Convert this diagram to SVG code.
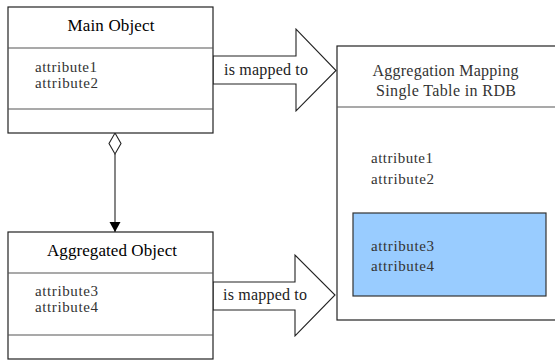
<svg xmlns="http://www.w3.org/2000/svg" width="555" height="360" viewBox="0 0 555 360">
<style>
.box{fill:#fff;stroke:#222;stroke-width:1.2}
.div{stroke:#555;stroke-width:1.2;fill:none}
.title{font-family:"Liberation Serif","Times New Roman",serif;font-size:17px;fill:#000;text-anchor:middle}
.attr{font-family:"Liberation Serif","Times New Roman",serif;font-size:15px;fill:#333}
.lbl{font-family:"Liberation Serif","Times New Roman",serif;font-size:16px;fill:#222}
.rt{font-family:"Liberation Serif","Times New Roman",serif;font-size:16px;fill:#333;text-anchor:middle}
.big{fill:#fff;stroke:#222;stroke-width:1.1}
</style>
<defs>
<marker id="arr" viewBox="0 0 10 14" refX="10" refY="7" markerWidth="10" markerHeight="14" markerUnits="userSpaceOnUse" orient="auto">
<path d="M0,1.5 L10,7 L0,12.5 Z" fill="#000"/>
</marker>
</defs>
<g id="connectors">
<g id="map1">
<polygon class="big" points="213,56 296,56 296,29 336,70.5 296,111 296,84 213,84"/>
<text class="lbl" x="224" y="75" textLength="84">is mapped to</text>
</g>
<g id="map2">
<polygon class="big" points="213,282 295,282 295,255 335,295 295,336 295,310 213,310"/>
<text class="lbl" x="223" y="300" textLength="84">is mapped to</text>
</g>
<g id="aggregation">
<polygon points="115,133 121,143.5 115,154 109,143.5" fill="#fff" stroke="#222" stroke-width="1.1"/>
<line x1="115" y1="154" x2="115" y2="232" stroke="#222" stroke-width="1.1" marker-end="url(#arr)"/>
</g>
</g>
<g id="main-object">
<rect class="box" x="8" y="7" width="205" height="126"/>
<line class="div" x1="8" y1="48" x2="213" y2="48"/>
<line class="div" x1="8" y1="109" x2="213" y2="109"/>
<text class="title" x="111" y="31" textLength="87">Main Object</text>
<text class="attr" x="35" y="72" textLength="62">attribute1</text>
<text class="attr" x="35" y="88" textLength="63">attribute2</text>
</g>
<g id="aggregated-object">
<rect class="box" x="8" y="232" width="205" height="127"/>
<line class="div" x1="8" y1="273" x2="213" y2="273"/>
<line class="div" x1="8" y1="335" x2="213" y2="335"/>
<text class="title" x="112" y="256" textLength="130">Aggregated Object</text>
<text class="attr" x="35" y="296" textLength="63">attribute3</text>
<text class="attr" x="35" y="312" textLength="63">attribute4</text>
</g>
<g id="table">
<rect class="box" x="337" y="46" width="230" height="274"/>
<line class="div" x1="337" y1="107" x2="555" y2="107"/>
<text class="rt" x="445.5" y="76" textLength="146">Aggregation Mapping</text>
<text class="rt" x="446" y="96" textLength="140">Single Table in RDB</text>
<text class="attr" x="371" y="163" textLength="62">attribute1</text>
<text class="attr" x="371" y="184" textLength="63">attribute2</text>
<rect x="353" y="213" width="193" height="83" fill="#99CCFF" stroke="#333" stroke-width="1.2"/>
<text class="attr" x="371" y="251" textLength="63">attribute3</text>
<text class="attr" x="371" y="271" textLength="63">attribute4</text>
</g>
</svg>
